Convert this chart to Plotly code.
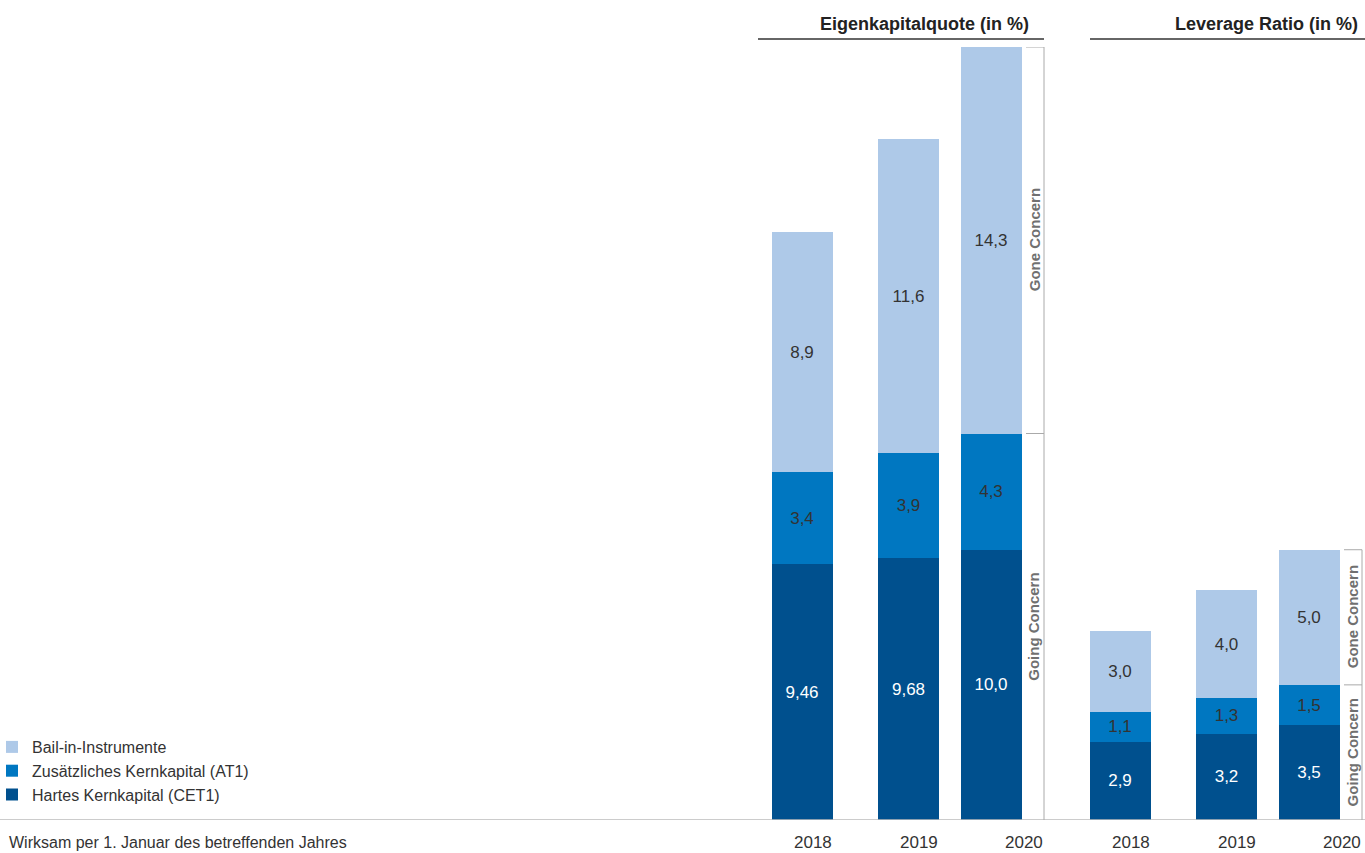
import plotly.graph_objects as go

# ---------------- data ----------------
years = ["2018", "2019", "2020"]

ek_cet1 = [9.46, 9.68, 10.0]
ek_at1 = [3.4, 3.9, 4.3]
ek_bail = [8.9, 11.6, 14.3]
ek_cet1_lbl = ["9,46", "9,68", "10,0"]
ek_at1_lbl = ["3,4", "3,9", "4,3"]
ek_bail_lbl = ["8,9", "11,6", "14,3"]

lr_cet1 = [2.9, 3.2, 3.5]
lr_at1 = [1.1, 1.3, 1.5]
lr_bail = [3.0, 4.0, 5.0]
lr_cet1_lbl = ["2,9", "3,2", "3,5"]
lr_at1_lbl = ["1,1", "1,3", "1,5"]
lr_bail_lbl = ["3,0", "4,0", "5,0"]

series_names = ["Hartes Kernkapital (CET1)", "Zusätzliches Kernkapital (AT1)", "Bail-in-Instrumente"]
group_titles = ["Eigenkapitalquote (in %)", "Leverage Ratio (in %)"]
bracket_texts = ["Going Concern", "Gone Concern"]
footnote = "Wirksam per 1. Januar des betreffenden Jahres"

# ---------------- style ----------------
W, H = 1365, 853
TOP, BOTTOM = 47, 820  # plot area in px
FONT = "Liberation Sans"
C_DARK, C_MID, C_LIGHT = "#00508e", "#0077c1", "#aec9e8"
TXT = "#333333"
GRAY_LINE = "#aaaaaa"

SPACING = 94.5
BARW_PX = 61
BARW = BARW_PX / SPACING
NUDGE_PX = [0, 12, 0]          # visual nudge of the middle bar (px)
left_first_center = 802.0
right_first_center = 1120.0
left_bracket_px = 1044.0
right_bracket_px = 1362.0


def px_x(px):
    return px / W


def px_y(px):
    return (BOTTOM - px) / (BOTTOM - TOP)


def dom(first_center):
    a = first_center - SPACING / 2
    b = first_center + 2 * SPACING + SPACING / 2
    return [a / W, b / W]


bar_offsets = [-BARW / 2 + n / SPACING for n in NUDGE_PX]

fig = go.Figure()

groups = [
    ("x", [ek_cet1, ek_at1, ek_bail], [ek_cet1_lbl, ek_at1_lbl, ek_bail_lbl], True),
    ("x2", [lr_cet1, lr_at1, lr_bail], [lr_cet1_lbl, lr_at1_lbl, lr_bail_lbl], False),
]
colors = [C_DARK, C_MID, C_LIGHT]
txt_colors = ["white", TXT, TXT]

for xa, vals, lbls, show in groups:
    for i in range(3):
        fig.add_trace(go.Bar(
            x=years, y=vals[i], text=lbls[i], name=series_names[i],
            xaxis=xa, yaxis="y",
            marker=dict(color=colors[i], line=dict(width=0)),
            width=BARW, offset=bar_offsets,
            textposition="inside", insidetextanchor="middle", textangle=0,
            textfont=dict(color=txt_colors[i], size=17, family=FONT),
            legendgroup=series_names[i], showlegend=show,
            hoverinfo="skip",
        ))

ymax = ek_cet1[-1] + ek_at1[-1] + ek_bail[-1]

fig.update_layout(
    width=W, height=H,
    margin=dict(l=0, r=0, t=TOP, b=H - BOTTOM, autoexpand=False),
    barmode="stack",
    plot_bgcolor="white", paper_bgcolor="white",
    font=dict(family=FONT, color=TXT, size=16),
    xaxis=dict(type="category", domain=dom(left_first_center), range=[-0.5, 2.5],
               showticklabels=False, showgrid=False, zeroline=False, showline=False, ticks=""),
    xaxis2=dict(type="category", domain=dom(right_first_center), range=[-0.5, 2.5],
                showticklabels=False, showgrid=False, zeroline=False, showline=False,
                ticks="", anchor="y"),
    yaxis=dict(range=[0, ymax], visible=False, showgrid=False),
    legend=dict(
        xref="paper", yref="paper", x=-8 / W, y=px_y(812),
        xanchor="left", yanchor="bottom", traceorder="reversed",
        font=dict(size=16, color=TXT, family=FONT),
        itemwidth=30, tracegroupgap=0, bgcolor="rgba(0,0,0,0)",
    ),
    showlegend=True,
)

shapes = []
annotations = []

# baseline
shapes.append(dict(type="line", xref="paper", yref="y", x0=0, x1=1, y0=0, y1=0,
                   line=dict(color="#bbbbbb", width=1.5)))

# titles + underline
title_specs = [(group_titles[0], 758, left_bracket_px, 1031),
               (group_titles[1], 1090, W, 1360)]
for t, x0, x1, xr in title_specs:
    shapes.append(dict(type="line", xref="paper", yref="paper",
                       x0=px_x(x0), x1=px_x(x1), y0=px_y(39), y1=px_y(39),
                       line=dict(color="#666666", width=2)))
    annotations.append(dict(text="<b>" + t + "</b>", xref="paper", yref="paper",
                            x=px_x(xr), y=px_y(24), xanchor="right", yanchor="middle",
                            showarrow=False, font=dict(size=18, color="#222222", family=FONT)))

# brackets
bracket_specs = [
    (left_bracket_px, ek_cet1[-1], ek_at1[-1], ek_bail[-1]),
    (right_bracket_px, lr_cet1[-1], lr_at1[-1], lr_bail[-1]),
]
for bx, c, a, b in bracket_specs:
    mid = c + a
    top = c + a + b
    shapes.append(dict(type="line", xref="paper", yref="y",
                       x0=px_x(bx), x1=px_x(bx), y0=0, y1=top,
                       line=dict(color=GRAY_LINE, width=1)))
    for yy in (mid, top):
        shapes.append(dict(type="line", xref="paper", yref="y",
                           x0=px_x(bx - 18), x1=px_x(bx), y0=yy, y1=yy,
                           line=dict(color=GRAY_LINE, width=1)))
    for txt, y0, y1 in ((bracket_texts[0], 0, mid), (bracket_texts[1], mid, top)):
        annotations.append(dict(text="<b>" + txt + "</b>", xref="paper", yref="y",
                                x=px_x(bx - 10), y=(y0 + y1) / 2, textangle=-90,
                                xanchor="center", yanchor="middle", showarrow=False,
                                font=dict(size=15, color="#707070", family=FONT)))

# year labels (right aligned to bar edge / bracket)
LABEL_Y = 842
for xa, first_center, bpx in (("x", left_first_center, left_bracket_px),
                              ("x2", right_first_center, right_bracket_px)):
    for i, yr in enumerate(years):
        if i == len(years) - 1:
            shift = bpx - (first_center + i * SPACING)
        else:
            shift = BARW_PX / 2 + NUDGE_PX[i]
        annotations.append(dict(text=yr, xref=xa, yref="paper", x=i, y=px_y(LABEL_Y),
                                xanchor="right", yanchor="middle", xshift=shift, borderpad=0,
                                showarrow=False, font=dict(size=17, color=TXT, family=FONT)))

# footnote
annotations.append(dict(text=footnote, xref="paper", yref="paper", x=px_x(8), y=px_y(LABEL_Y),
                        xanchor="left", yanchor="middle", showarrow=False, borderpad=0,
                        font=dict(size=16, color=TXT, family=FONT)))

fig.update_layout(shapes=shapes, annotations=annotations)
fig.write_html("out.html", config={"displayModeBar": False},
               post_script="document.body.style.margin='0';")
